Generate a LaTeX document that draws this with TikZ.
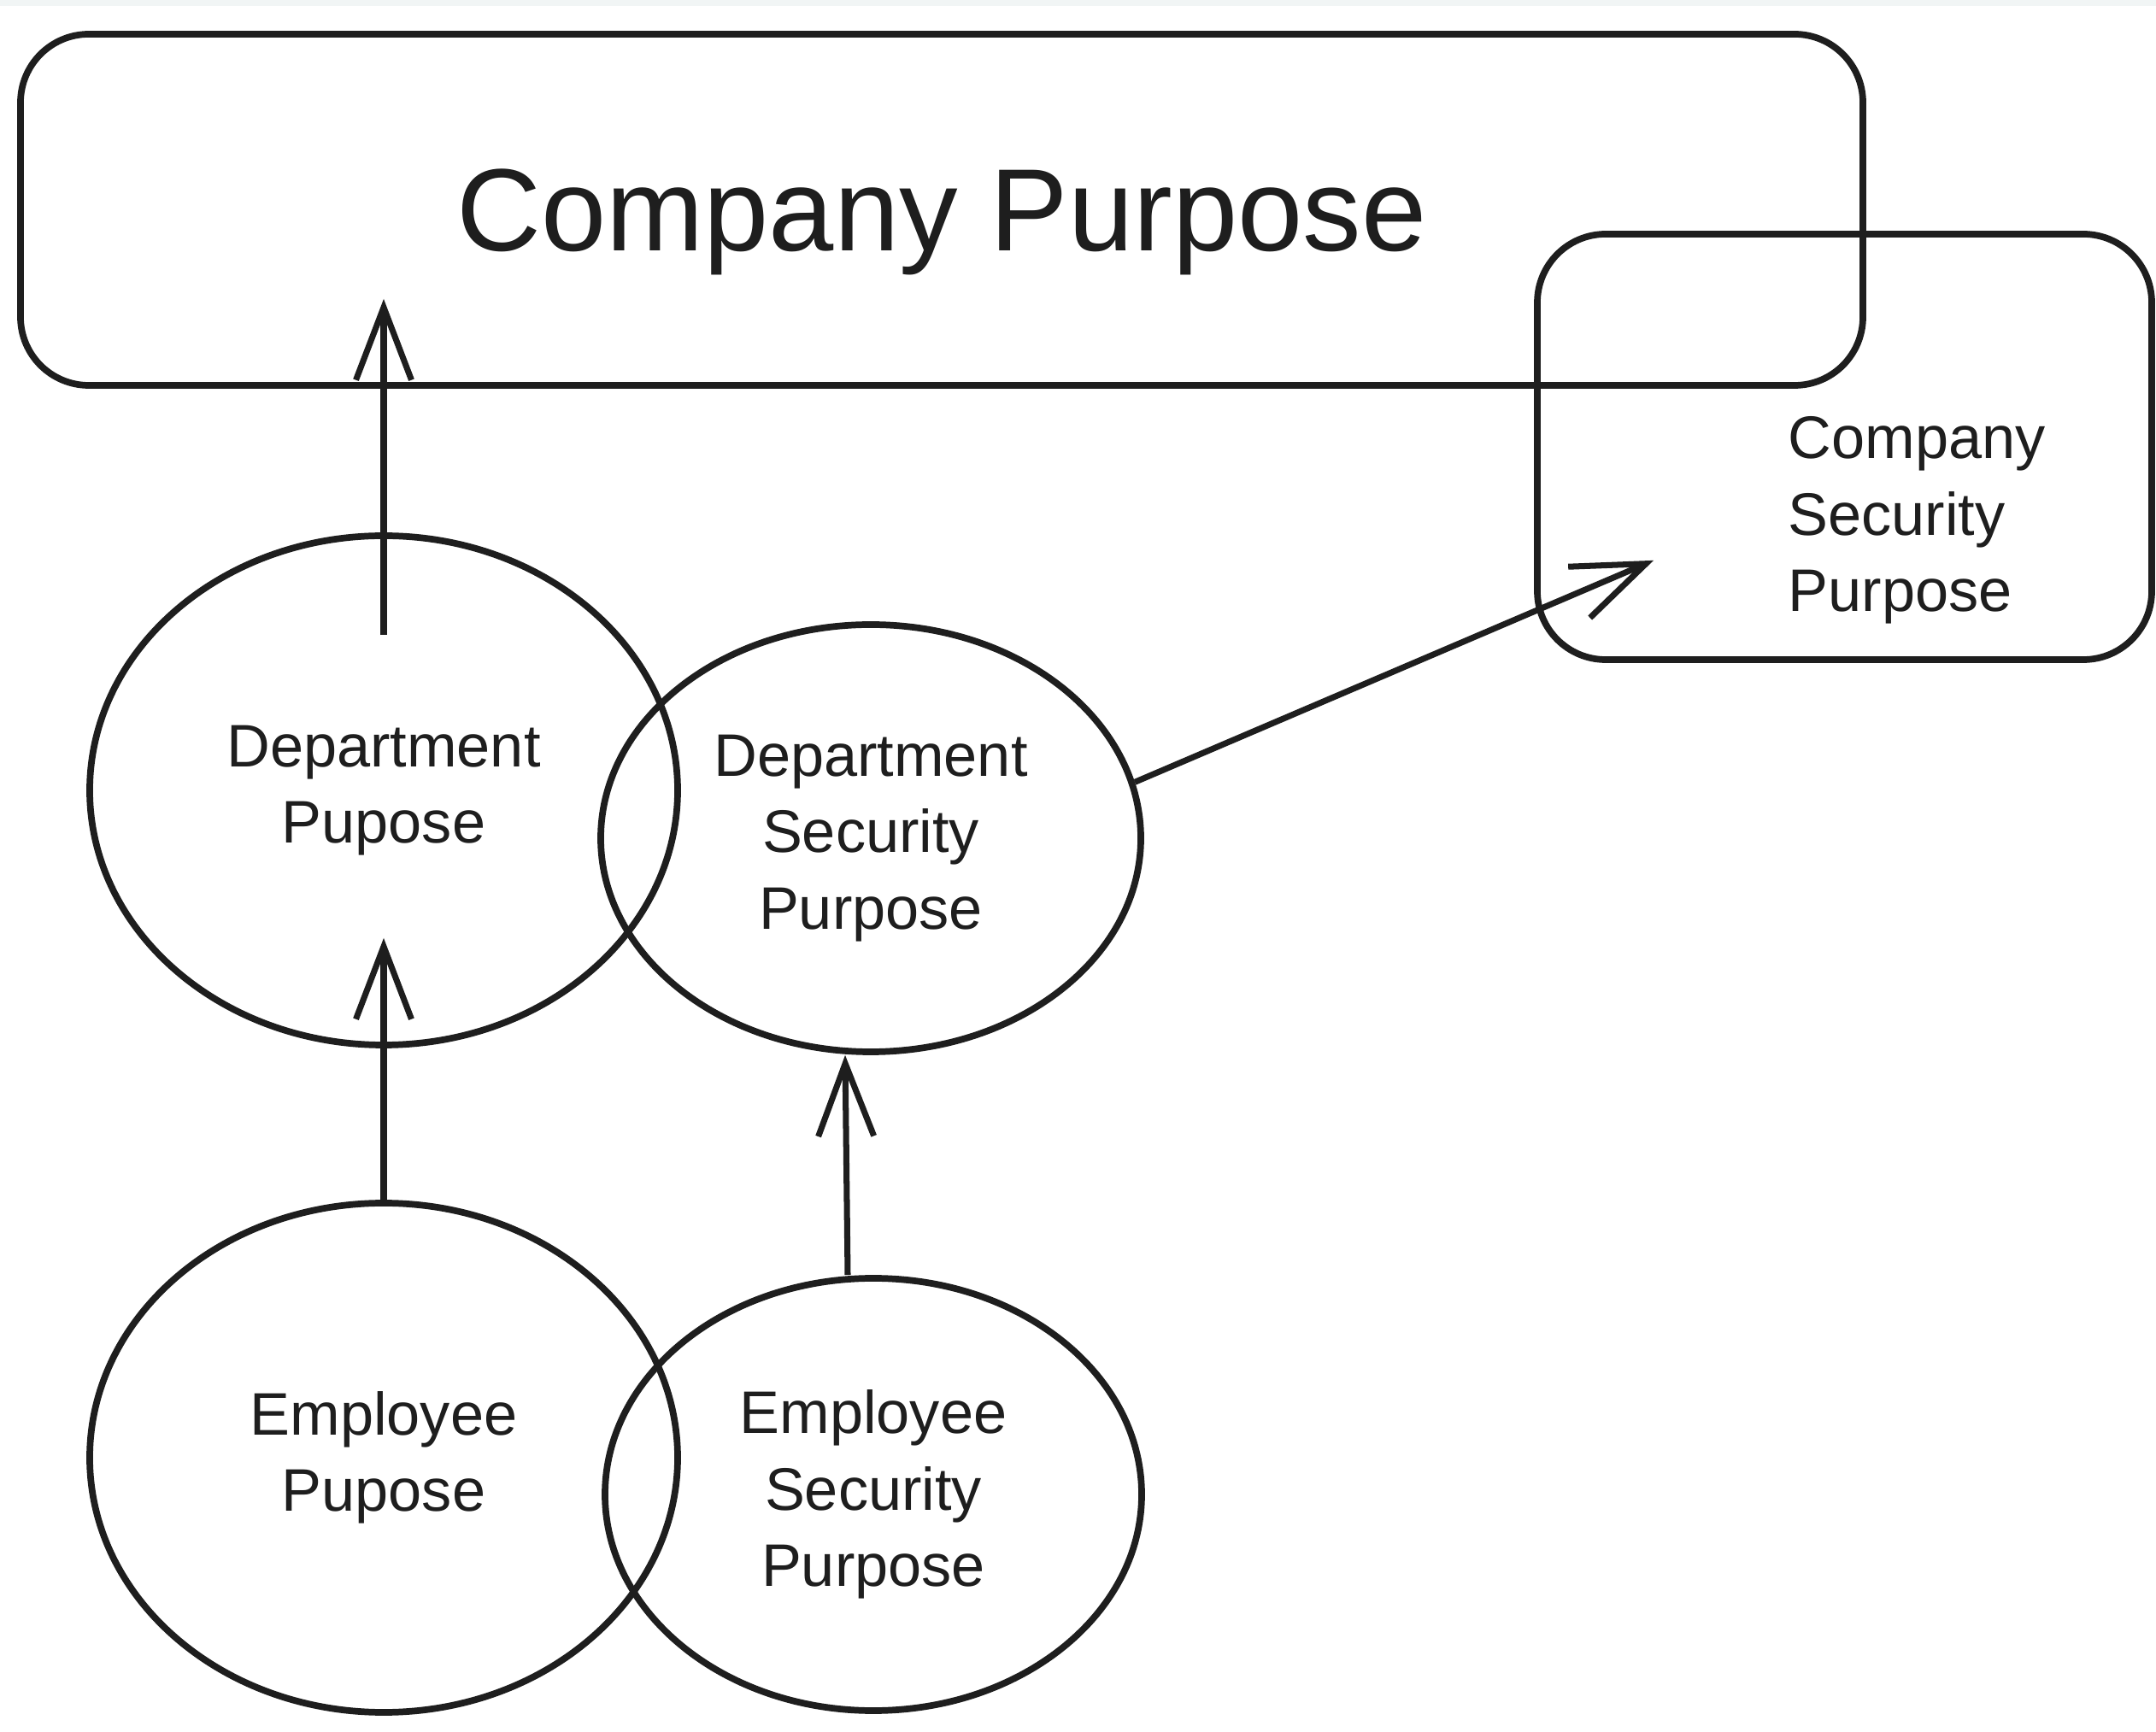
\documentclass[tikz,border=0pt]{standalone}
\usepackage{fontspec}
\setmainfont{Liberation Sans}
\usepackage{xcolor}
\usepackage{tikz}
\usetikzlibrary{shapes,arrows.meta,positioning,calc}
\definecolor{inkgray}{HTML}{1E1E1E}
\definecolor{topband}{HTML}{F1F5F5}

\begin{document}
\begin{tikzpicture}[
    sketch/.style={draw=inkgray,line width=2.2pt},
    purposebox/.style={sketch,rectangle,rounded corners=0.8cm},
    purposeoval/.style={sketch,ellipse,align=center,text=inkgray,font=\fontsize{20}{25.5}\selectfont},
    link/.style={draw=inkgray,line width=2pt,-{Straight Barb[length=8.5mm,width=6.5mm]}}
]
    % Canvas (keeps the margins of the sketch)
    \fill[white] (0,0) rectangle (25.23,20.26);
    \fill[topband] (0,20.19) rectangle (25.23,20.26);
    \useasboundingbox (0,0) rectangle (25.23,20.26);

    % Company level
    \node[purposebox,minimum width=21.56cm,minimum height=4.11cm,text=inkgray,font=\fontsize{39}{46}\selectfont,text height=1.25cm] (cp) at (11.02,17.805) {Company Purpose};
    \node[purposebox,minimum width=7.19cm,minimum height=4.98cm] (csp) at (21.585,15.03) {};
    \node[anchor=west,align=left,inner sep=0pt,text=inkgray,font=\fontsize{20}{25.5}\selectfont] (csptext) at (20.92,14.17) {Company\\Security\\Purpose};

    % Department level
    \node[purposeoval,minimum width=6.88cm,minimum height=5.96cm] (dp) at (4.49,11.01) {Department\\Pupose};
    \node[purposeoval,minimum width=6.32cm,minimum height=5.00cm] (ds) at (10.19,10.45) {Department\\Security\\Purpose};

    % Employee level
    \node[purposeoval,minimum width=6.88cm,minimum height=5.96cm] (ep) at (4.49,3.20) {Employee\\Pupose};
    \node[purposeoval,minimum width=6.28cm,minimum height=5.06cm] (es) at (10.22,2.77) {Employee\\Security\\Purpose};

    % Arrows
    \coordinate (cpin) at ($(dp.north |- cp.south)+(0,1.05)$);
    \coordinate (cspin) at ($(csp.south west)+(1.4,1.2)$);
    \draw[link] ([yshift=-1.2cm]dp.north) -- (cpin);
    \draw[link] (ep.north) -- ([yshift=1.29cm]dp.south);
    \draw[link] ([xshift=-0.3cm]es.north) -- ([xshift=-0.3cm]ds.south);
    \draw[link] (ds.12) -- (cspin);
\end{tikzpicture}
\end{document}
